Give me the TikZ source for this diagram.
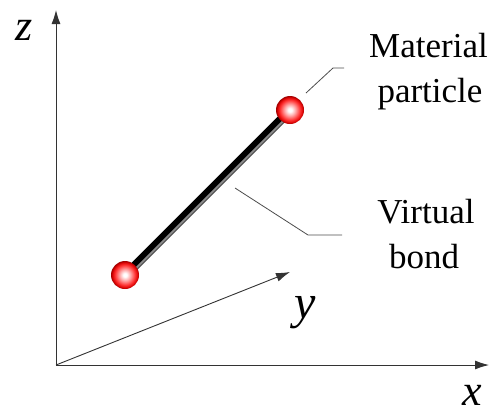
\documentclass[tikz,border=0pt]{standalone}
\usepackage{fontspec}
\setmainfont{Liberation Serif}
\usetikzlibrary{arrows.meta}
\pgfdeclareradialshading{sphereshade}{\pgfpoint{0bp}{0bp}}{%
  color(0bp)=(white); color(3bp)=(white); color(10bp)=(red!35); color(18bp)=(red!80); color(23bp)=(red!85!black); color(25bp)=(red!60!black); color(50bp)=(red!60!black)}
\tikzset{
  axis/.style={draw=black!80, line width=0.9pt, -{Latex[length=14pt,width=9pt]}},
  leader/.style={draw=black!70, line width=0.8pt},
  lab/.style={font=\fontsize{35}{42}\selectfont, inner sep=0pt, anchor=base},
  axlab/.style={font=\fontsize{48}{52}\selectfont\itshape, inner sep=0pt, anchor=base},
  particle/.style={circle, minimum size=28pt, inner sep=0pt, shading=sphereshade},
}
\begin{document}
\begin{tikzpicture}[x=1pt,y=-1pt]
\useasboundingbox (0,0) rectangle (495,416);
\coordinate (O) at (56,365);
\coordinate (zt) at (56,10);
\coordinate (xt) at (489,365);
\coordinate (yt) at (290,272);
\draw[axis] (O) -- (zt);
\draw[axis] (O) -- (xt);
\draw[axis] (O) -- (yt);
\node[axlab, font=\fontsize{44}{48}\selectfont\itshape] (zl) at (24,40) {z};
\node[axlab, font=\fontsize{44}{48}\selectfont\itshape] (xl) at (472,405) {x};
\node[axlab] (yl) at (305,318) {y};
% bond
\coordinate (b1) at (125,275);
\coordinate (b2) at (290,110);
\draw[line width=8pt, black] (b1) -- (b2);
\draw[line width=2pt, black!45] ([shift={(2.2,2.2)}]b1) -- ([shift={(2.2,2.2)}]b2);
\draw[line width=1pt, black!70] ([shift={(3.2,3.2)}]b1) -- ([shift={(3.2,3.2)}]b2);
\node[particle] (p1) at (b1) {};
\node[particle] (p2) at (b2) {};
% leaders
\coordinate (m1) at (306,93);
\coordinate (m2) at (333,68);
\coordinate (m3) at (344,68);
\draw[leader] (m1) -- (m2) -- (m3);
\coordinate (v1) at (235,188);
\coordinate (v2) at (308,235);
\coordinate (v3) at (342,235);
\draw[leader] (v1) -- (v2) -- (v3);
\node[lab] (mat) at (428.5,57) {Material};
\node[lab] (par) at (430,102) {particle};
\node[lab] (vir) at (426,223) {Virtual};
\node[lab] (bon) at (424,268) {bond};
\end{tikzpicture}
\end{document}
